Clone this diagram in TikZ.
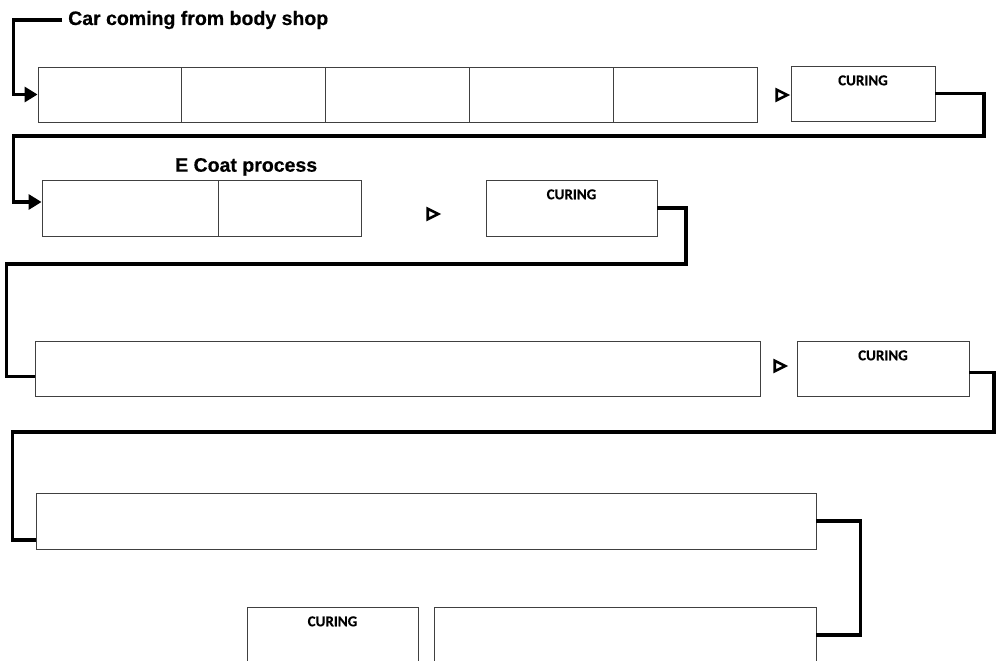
\documentclass[tikz,border=0pt]{standalone}
\usepackage{fontspec}
\setmainfont{Liberation Sans}[BoldFeatures={FakeBold=0.5}]
\newfontfamily\curefont{Carlito}[BoldFont={Carlito Bold}, BoldFeatures={FakeBold=0.4}]
\usetikzlibrary{arrows.meta,shapes.geometric}
\begin{document}
\begin{tikzpicture}[x=1pt,y=-1pt,
 cell/.style={draw=black!75, line width=0.9pt, rectangle, inner sep=0pt, minimum height=55pt},
 conn/.style={line width=3.8pt, line join=miter},
 inarrow/.style={-{Triangle[length=13pt,width=15pt]}},
 curetext/.style={font=\curefont\bfseries\fontsize{15}{15}\selectfont, anchor=base, inner sep=0pt},
 title/.style={font=\bfseries\fontsize{19.5}{20}\selectfont, anchor=base west, inner sep=0pt},
 tri/.style={isosceles triangle, draw, line width=2.6pt, inner sep=0pt, minimum width=10.5pt, minimum height=10.5pt, isosceles triangle stretches, fill=white}]
\useasboundingbox (0,0) rectangle (997,661);
\clip (0,0) rectangle (997,661);

% titles
\node[title] (lab1) at (68,25) {Car coming from body shop};
\node[title] (lab2) at (175,171.7) {E Coat process};

% row 1
\node[cell, minimum width=143.8pt] (a1) at (109.9,94.5) {};
\node[cell, minimum width=143.8pt] (a2) at (253.7,94.5) {};
\node[cell, minimum width=143.8pt] (a3) at (397.5,94.5) {};
\node[cell, minimum width=143.8pt] (a4) at (541.3,94.5) {};
\node[cell, minimum width=143.8pt] (a5) at (685.1,94.5) {};
\node[tri] (t1) at (780,95) {};
\node[cell, minimum width=144pt] (c1) at (863,93.5) {};
\node[curetext] (c1t) at ([yshift=-19.7pt]c1.north) {CURING};

% row 2
\node[cell, minimum width=176pt, minimum height=56pt] (b1) at (130,208) {};
\node[cell, minimum width=143pt, minimum height=56pt] (b2) at (289.5,208) {};
\node[tri] (t2) at (431,214) {};
\node[cell, minimum width=171pt, minimum height=56pt] (c2) at (571.5,208) {};
\node[curetext] (c2t) at ([yshift=-19.7pt]c2.north) {CURING};

% row 3
\node[cell, minimum width=725pt] (r3) at (397.5,368.5) {};
\node[tri] (t3) at (778,366) {};
\node[cell, minimum width=172pt] (c3) at (883,368.5) {};
\node[curetext] (c3t) at ([yshift=-19.7pt]c3.north) {CURING};

% row 4
\node[cell, minimum width=780pt, minimum height=56pt] (r4) at (426,521) {};

% row 5
\node[cell, minimum width=171pt, minimum height=56pt] (c5) at (332.5,635) {};
\node[curetext] (c5t) at ([yshift=-19.7pt]c5.north) {CURING};
\node[cell, minimum width=382pt, minimum height=56pt] (r5) at (625,635) {};

% connectors
\draw[conn,inarrow] ([xshift=-6pt]lab1.west) -| ([xshift=-24pt]a1.west) -- (a1.west);
\draw[conn,inarrow] (c1.east) -| (984,136) -| ([xshift=-28pt,yshift=6pt]b1.west) -- ([yshift=6pt]b1.west);
\draw[conn] (c2.east) -| (686,264) -| ([xshift=-28pt,yshift=-8pt]r3.west) -- ([yshift=-8pt]r3.west);
\draw[conn] ([yshift=-4pt]c3.east) -| (994,432) -| ([xshift=-23pt,yshift=-19pt]r4.west) -- ([yshift=-19pt]r4.west);
\draw[conn] (r4.east) -| ([xshift=44pt]r5.east) -- (r5.east);
\end{tikzpicture}
\end{document}
